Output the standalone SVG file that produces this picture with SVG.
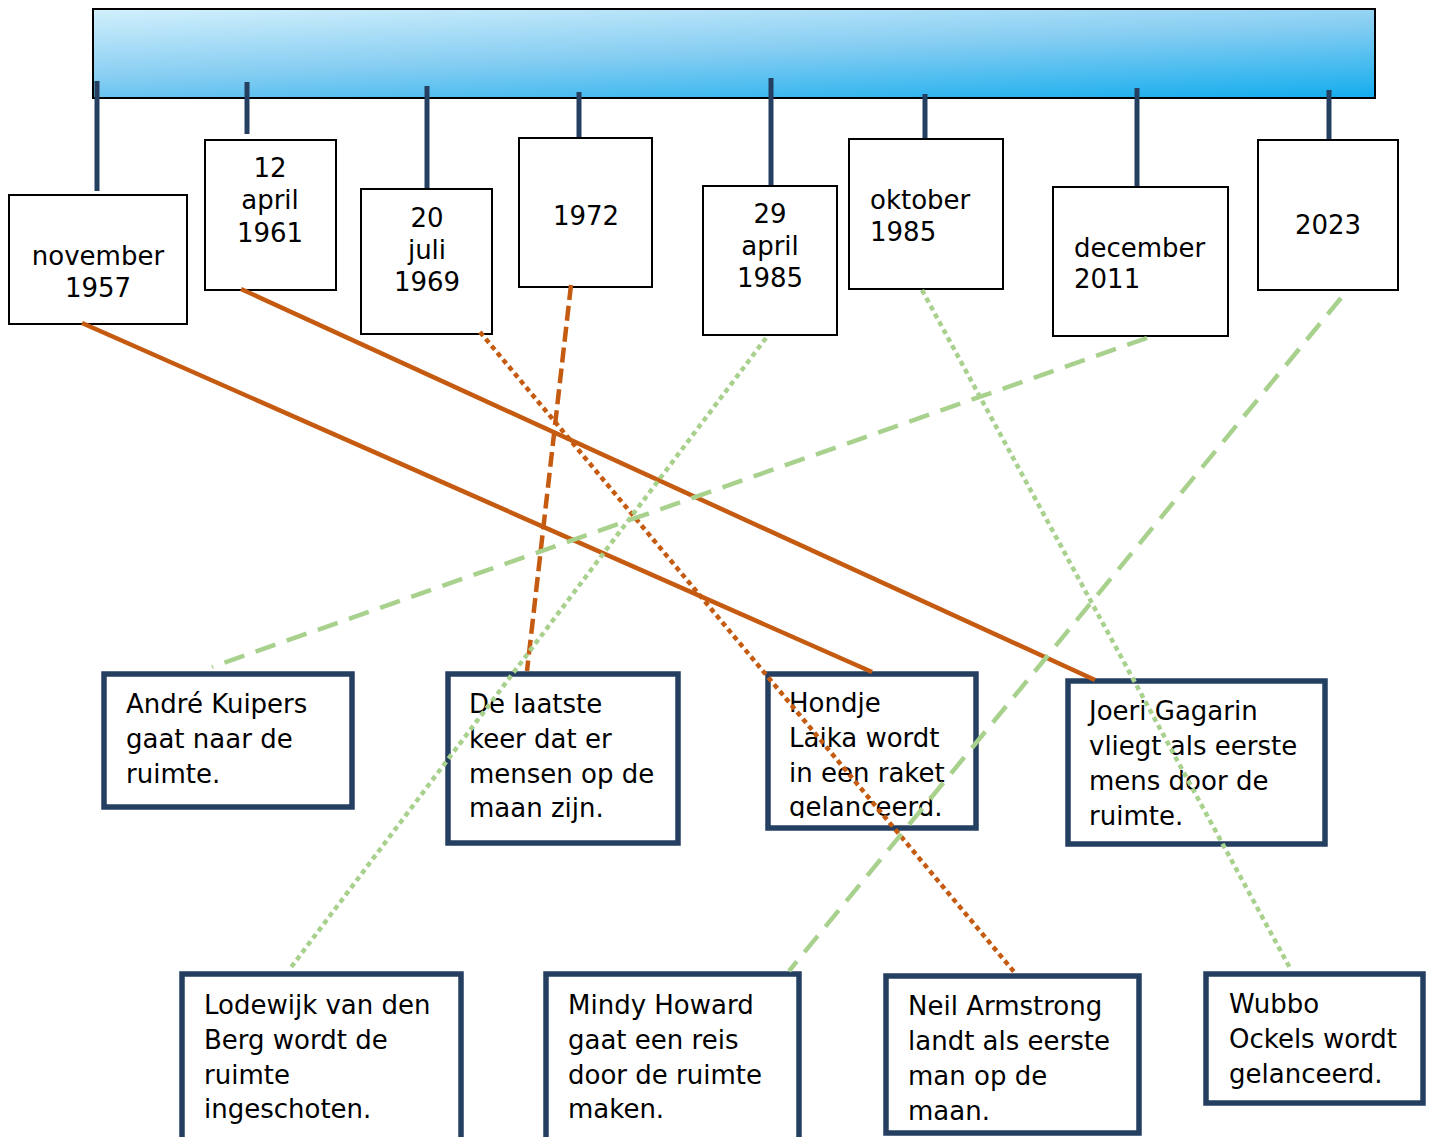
<svg xmlns="http://www.w3.org/2000/svg" width="1433" height="1137" viewBox="0 0 1433 1137">
<defs>
<linearGradient id="barGrad" gradientUnits="userSpaceOnUse" x1="93" y1="9" x2="99" y2="149">
<stop offset="0" stop-color="#d2f0fc"/>
<stop offset="0.5" stop-color="#86cdf2"/>
<stop offset="1" stop-color="#18aeee"/>
</linearGradient>
<clipPath id="clipHondje"><rect x="770" y="676" width="204" height="142"/></clipPath>
</defs>
<style>
text{font-family:"DejaVu Sans","Liberation Sans",sans-serif;font-size:26px;fill:#000}
.date rect{fill:#fff;stroke:#000;stroke-width:2}
.ev rect{fill:#fff;stroke:#243f60;stroke-width:5.5}
.tick{stroke:#243f60;stroke-width:5}
.mid{text-anchor:middle}
.conn line{fill:none;stroke-width:4.5}
.or{stroke:#c55a11}
.gr{stroke:#a9d18e}
.dash-or{stroke-dasharray:15 6}
.dot{stroke-dasharray:5 4;stroke-width:5}
.dash-gr{stroke-dasharray:21 12;stroke-width:5.5}
</style>
<g id="bar">
<rect x="93" y="9" width="1282" height="89" fill="url(#barGrad)" stroke="#000" stroke-width="2"/>
</g>
<g id="ticks">
<line class="tick" x1="97" y1="81" x2="97" y2="191"/>
<line class="tick" x1="247" y1="82" x2="247" y2="134"/>
<line class="tick" x1="427" y1="86" x2="427" y2="189"/>
<line class="tick" x1="579" y1="92" x2="579" y2="138"/>
<line class="tick" x1="771" y1="78" x2="771" y2="186"/>
<line class="tick" x1="925" y1="94" x2="925" y2="139"/>
<line class="tick" x1="1137" y1="88" x2="1137" y2="187"/>
<line class="tick" x1="1329" y1="90" x2="1329" y2="140"/>
</g>
<g id="d1957" class="date">
<rect x="9" y="195" width="178" height="129"/>
<text class="mid" x="98" y="265">november</text>
<text class="mid" x="98" y="297">1957</text>
</g>
<g id="d1961" class="date">
<rect x="205" y="140" width="131" height="150"/>
<text class="mid" x="270" y="177">12</text>
<text class="mid" x="270" y="209">april</text>
<text class="mid" x="270" y="242">1961</text>
</g>
<g id="d1969" class="date">
<rect x="361" y="189" width="131" height="145"/>
<text class="mid" x="427" y="227">20</text>
<text class="mid" x="427" y="259">juli</text>
<text class="mid" x="427" y="291">1969</text>
</g>
<g id="d1972" class="date">
<rect x="519" y="138" width="133" height="149"/>
<text class="mid" x="586" y="225">1972</text>
</g>
<g id="d1985a" class="date">
<rect x="703" y="186" width="134" height="149"/>
<text class="mid" x="770" y="223">29</text>
<text class="mid" x="770" y="255">april</text>
<text class="mid" x="770" y="287">1985</text>
</g>
<g id="d1985b" class="date">
<rect x="849" y="139" width="154" height="150"/>
<text x="870" y="209">oktober</text>
<text x="870" y="241">1985</text>
</g>
<g id="d2011" class="date">
<rect x="1053" y="187" width="175" height="149"/>
<text x="1074" y="257">december</text>
<text x="1074" y="288">2011</text>
</g>
<g id="d2023" class="date">
<rect x="1258" y="140" width="140" height="150"/>
<text class="mid" x="1328" y="234">2023</text>
</g>
<g id="eKuipers" class="ev">
<rect x="104" y="674" width="248" height="133"/>
<text x="126" y="713">André Kuipers</text>
<text x="126" y="748">gaat naar de</text>
<text x="126" y="783">ruimte.</text>
</g>
<g id="eLaatste" class="ev">
<rect x="448" y="674" width="230" height="169"/>
<text x="469" y="713">De laatste</text>
<text x="469" y="748">keer dat er</text>
<text x="469" y="783">mensen op de</text>
<text x="469" y="817">maan zijn.</text>
</g>
<g id="eLaika" class="ev">
<rect x="768" y="674" width="208" height="154"/>
<g clip-path="url(#clipHondje)">
<text x="789" y="712">Hondje</text>
<text x="789" y="747">Laika wordt</text>
<text x="789" y="782">in een raket</text>
<text x="789" y="816">gelanceerd.</text>
</g>
</g>
<g id="eGagarin" class="ev">
<rect x="1068" y="681" width="257" height="163"/>
<text x="1089" y="720">Joeri Gagarin</text>
<text x="1089" y="755">vliegt als eerste</text>
<text x="1089" y="790">mens door de</text>
<text x="1089" y="825">ruimte.</text>
</g>
<g id="eLodewijk" class="ev">
<rect x="182" y="974" width="279" height="180"/>
<text x="204" y="1014">Lodewijk van den</text>
<text x="204" y="1049">Berg wordt de</text>
<text x="204" y="1084">ruimte</text>
<text x="204" y="1118">ingeschoten.</text>
</g>
<g id="eMindy" class="ev">
<rect x="546" y="974" width="253" height="180"/>
<text x="568" y="1014">Mindy Howard</text>
<text x="568" y="1049">gaat een reis</text>
<text x="568" y="1084">door de ruimte</text>
<text x="568" y="1118">maken.</text>
</g>
<g id="eArmstrong" class="ev">
<rect x="886" y="976" width="253" height="157"/>
<text x="908" y="1015">Neil Armstrong</text>
<text x="908" y="1050">landt als eerste</text>
<text x="908" y="1085">man op de</text>
<text x="908" y="1120">maan.</text>
</g>
<g id="eOckels" class="ev">
<rect x="1206" y="974" width="217" height="129"/>
<text x="1229" y="1013">Wubbo</text>
<text x="1229" y="1048">Ockels wordt</text>
<text x="1229" y="1083">gelanceerd.</text>
</g>
<g id="connectors" class="conn">
<line class="or" x1="82" y1="323" x2="872" y2="672"/>
<line class="or" x1="241" y1="289" x2="1095" y2="680"/>
<line class="or dash-or" x1="571" y1="285" x2="527" y2="671"/>
<line class="or dot" x1="480" y1="332" x2="1015" y2="973"/>
<line class="gr dash-gr" x1="1147" y1="338" x2="212" y2="667"/>
<line class="gr dash-gr" x1="1341" y1="298" x2="789" y2="971"/>
<line class="gr dot" x1="766" y1="338" x2="289" y2="970"/>
<line class="gr dot" x1="922" y1="290" x2="1291" y2="970"/>
</g>
</svg>
